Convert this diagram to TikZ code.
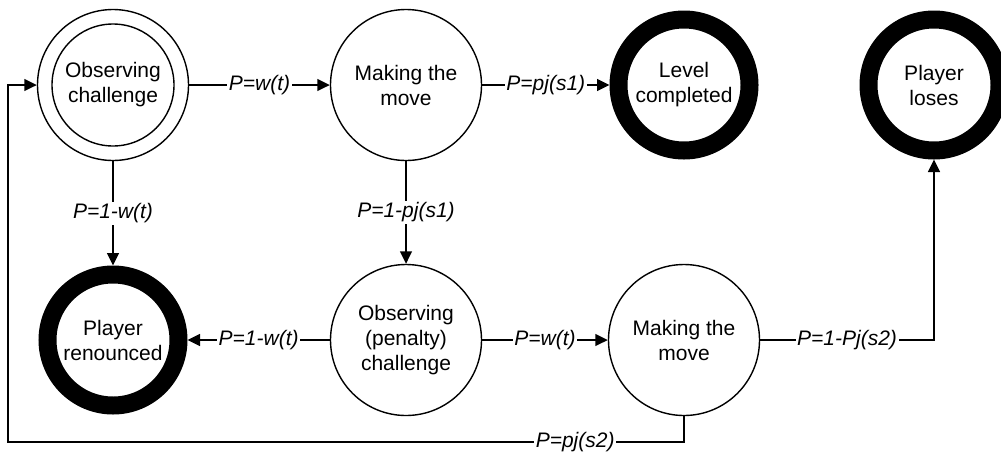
\documentclass[tikz,border=0pt]{standalone}
\usepackage{fontspec}
\setmainfont{Liberation Sans}
\usetikzlibrary{arrows.meta}
\begin{document}
\begin{tikzpicture}[x=1pt,y=-1pt,
  state/.style={circle, draw, line width=1.4pt, minimum size=151pt, inner sep=0pt,
    align=center, font=\fontsize{21}{25}\selectfont},
  final/.style={state, line width=18pt, minimum size=131pt},
  lab/.style={fill=white, inner sep=1.5pt, font=\fontsize{21}{25}\selectfont\itshape},
  arr/.style={line width=1.4pt, -{Triangle[length=12.5pt,width=12pt]}}]
\useasboundingbox (0,0) rectangle (1001,456);

% states
\node[state] (oc) at (113,85) {Observing\\challenge};
\draw[line width=1.4pt] (oc.center) circle (61pt);
\node[state] (mt) at (406,85) {Making the\\move};
\node[final] (lc) at (684,85) {Level\\completed};
\node[final] (pl) at (934,85) {Player\\loses};
\node[final] (pr) at (113,340) {Player\\renounced};
\node[state] (op) at (406,340) {Observing\\(penalty)\\challenge};
\node[state] (mb) at (684,340) {Making the\\move};

% transitions
\draw[arr] (oc) -- node[lab]{P=w(t)} (mt);
\draw[arr] (mt) -- node[lab]{P=pj(s1)} (lc);
\draw[arr] (oc) -- node[lab]{P=1-w(t)} (pr);
\draw[arr] (mt) -- node[lab]{P=1-pj(s1)} (op);
\draw[arr] (op) -- node[lab]{P=1-w(t)} (pr);
\draw[arr] (op) -- node[lab]{P=w(t)} (mb);
\draw[arr] (mb.east) -| node[lab, pos=0.25]{P=1-Pj(s2)} (pl.south);

% return loop to the first challenge
\coordinate (loopR) at (684,442);
\coordinate (loopL) at (8,442);
\draw[arr] (mb.south) -- (loopR) -- node[lab, pos=0.161]{P=pj(s2)} (loopL) |- (oc.west);
\end{tikzpicture}
\end{document}
